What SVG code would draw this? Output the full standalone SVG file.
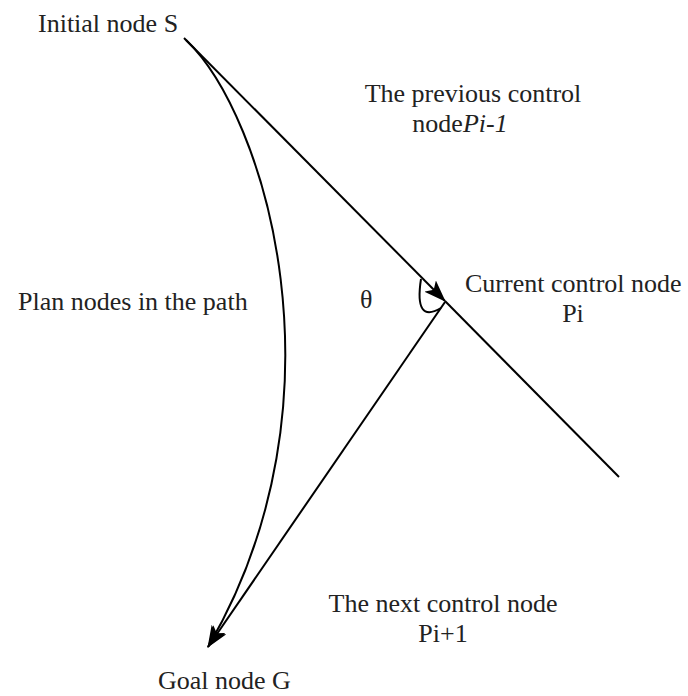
<svg xmlns="http://www.w3.org/2000/svg" width="688" height="696" viewBox="0 0 688 696">
<style>
text{font-family:"Liberation Serif","Times New Roman",serif;font-size:26px;fill:#222}
.ln{fill:none;stroke:#000;stroke-width:2}
.it{font-style:italic}
</style>
<defs>
<marker id="ah" markerWidth="23" markerHeight="16" refX="21" refY="8" orient="auto" markerUnits="userSpaceOnUse">
<path d="M0,0 L22,8 L0,16 L5,8 Z" fill="#000"/>
</marker>
</defs>
<rect width="688" height="696" fill="#fff"/>
<g id="connectors">
<path class="ln" d="M184,38 L445,301" marker-end="url(#ah)"/>
<path class="ln" d="M445,301 L619,477"/>
<path class="ln" d="M445,302 L208,647" marker-end="url(#ah)"/>
<path class="ln" d="M186,40 C265,115 352,400 208,647" marker-end="url(#ah)"/>
<path class="ln" d="M421,279 Q414,324 441,308"/>
</g>
<g id="node-S"><text x="38" y="32">Initial node S</text></g>
<g id="node-prev"><text x="473" y="102" text-anchor="middle">The previous control</text><text x="460" y="132" text-anchor="middle">node<tspan class="it">Pi-1</tspan></text></g>
<g id="node-current"><text x="465" y="292">Current control node</text><text x="573" y="322" text-anchor="middle">Pi</text></g>
<g id="node-plan"><text x="18" y="310">Plan nodes in the path</text></g>
<g id="angle"><text x="360" y="308">θ</text></g>
<g id="node-next"><text x="443" y="612" text-anchor="middle">The next control node</text><text x="443" y="642" text-anchor="middle">Pi+1</text></g>
<g id="node-G"><text x="158" y="689">Goal node G</text></g>
</svg>
